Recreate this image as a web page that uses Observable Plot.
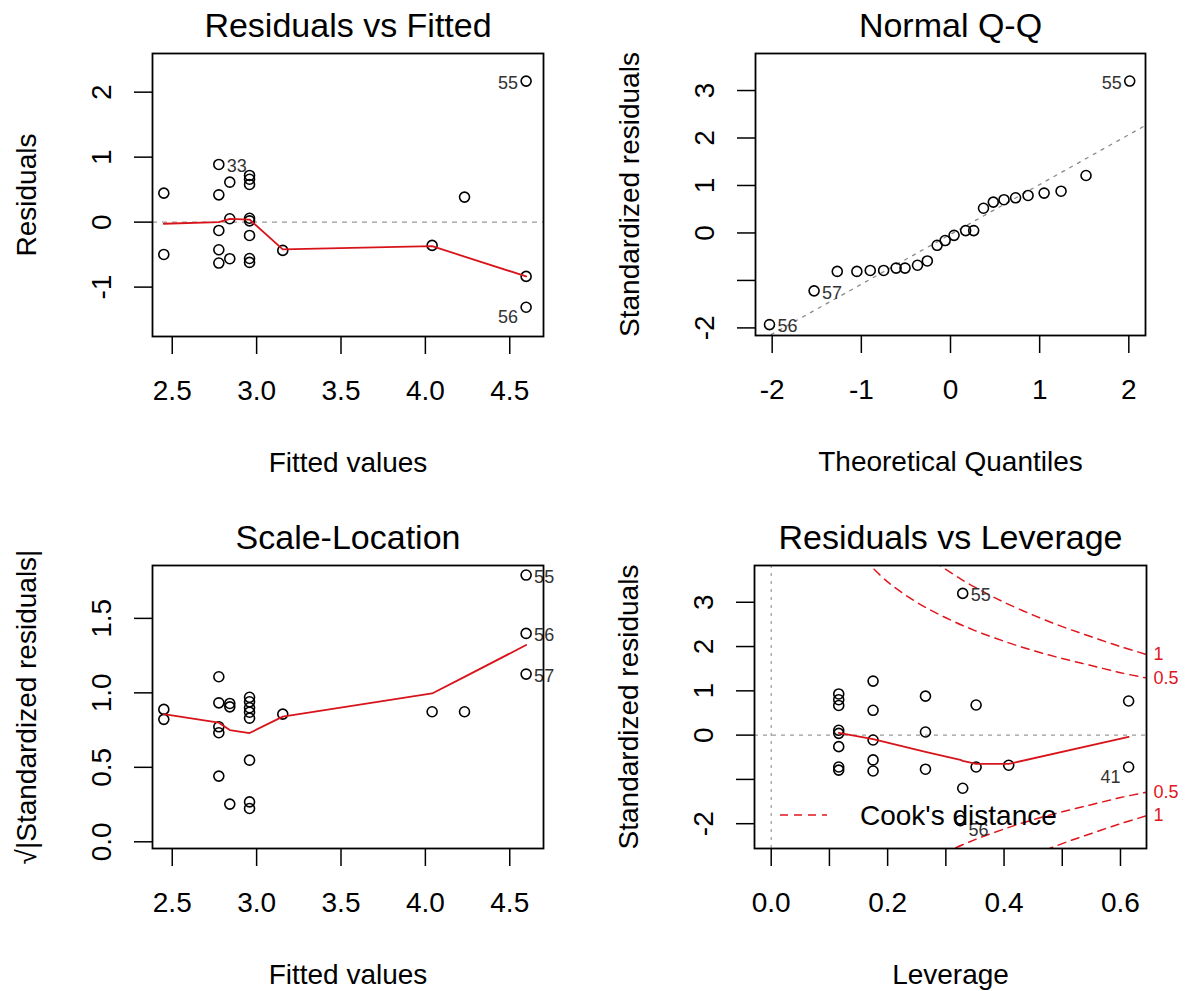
<!DOCTYPE html>
<html><head><meta charset="utf-8">
<script src="https://cdn.jsdelivr.net/npm/d3@7"></script>
<script src="https://cdn.jsdelivr.net/npm/@observablehq/plot@0.6"></script>
<style>
body{margin:0;background:#fff;}
#wrap{position:relative;width:1189px;height:991px;background:#fff;overflow:hidden;}
#wrap svg{position:absolute;overflow:visible;}
</style></head><body><div id="wrap"></div>
<script>
// ---------- Panel 1: Residuals vs Fitted ----------
const fitted1 = [2.45,2.45,2.776,2.776,2.776,2.776,2.776,2.841,2.841,2.841,2.958,2.958,2.958,2.958,2.958,2.958,2.958,2.958,3.155,4.04,4.232,4.597,4.597,4.597];
const resid1  = [0.446,-0.497,0.888,0.42,-0.128,-0.425,-0.63,0.615,0.052,-0.563,0.718,0.66,0.58,0.06,0.02,-0.205,-0.56,-0.62,-0.435,-0.358,0.385,2.17,-0.835,-1.31];
const id1     = ["","","33","","","","","","","","","","","","","","","","","","","55","","56"];
const smoothX1 = [2.45,2.776,2.841,2.958,3.155,4.04,4.232,4.597];
const smoothY1 = [-0.025,0.0,0.05,0.04,-0.42,-0.37,-0.53,-0.835];
const xTicks1 = [2.5,3.0,3.5,4.0,4.5];
const xTickLabels1 = ["2.5","3.0","3.5","4.0","4.5"];
const yTicks1 = [-1,0,1,2];
const yTickLabels1 = ["-1","0","1","2"];

// ---------- Panel 2: Normal Q-Q ----------
const theo2 = [-2.03,-1.53,-1.27,-1.05,-0.90,-0.75,-0.61,-0.51,-0.37,-0.26,-0.15,-0.06,0.04,0.17,0.26,0.37,0.48,0.60,0.73,0.87,1.05,1.24,1.52,2.01];
const std2  = [-1.93,-1.22,-0.81,-0.81,-0.79,-0.79,-0.74,-0.74,-0.68,-0.59,-0.26,-0.16,-0.05,0.05,0.05,0.52,0.65,0.70,0.74,0.79,0.84,0.88,1.21,3.20];
const id2   = ["56","57","","","","","","","","","","","","","","","","","","","","","","55"];
const qqIntercept = -0.03;
const qqSlope = 1.05;
const xTicks2 = [-2,-1,0,1,2];
const xTickLabels2 = ["-2","-1","0","1","2"];
const yTicks2 = [-2,-1,0,1,2,3];
const yTickLabels2 = ["-2","","0","1","2","3"];

// ---------- Panel 3: Scale-Location ----------
const fitted3 = [2.45,2.45,2.776,2.776,2.776,2.776,2.776,2.841,2.841,2.841,2.958,2.958,2.958,2.958,2.958,2.958,2.958,2.958,3.155,4.04,4.232,4.597,4.597,4.597];
const sqrtStd3 = [0.889,0.822,1.108,0.933,0.772,0.732,0.441,0.929,0.906,0.253,0.97,0.94,0.90,0.87,0.83,0.548,0.268,0.224,0.857,0.873,0.873,1.791,1.399,1.126];
const id3 = ["","","","","","","","","","","","","","","","","","","","","","55","56","57"];
const smoothX3 = [2.45,2.776,2.841,2.958,3.155,4.04,4.232,4.597];
const smoothY3 = [0.857,0.80,0.75,0.73,0.84,0.996,1.107,1.321];
const yTicks3 = [0,0.5,1.0,1.5];
const yTickLabels3 = ["0.0","0.5","1.0","1.5"];

// ---------- Panel 4: Residuals vs Leverage ----------
const lev4 = [0.116,0.116,0.116,0.116,0.116,0.116,0.116,0.116,0.175,0.175,0.175,0.175,0.175,0.265,0.265,0.265,0.329,0.325,0.329,0.352,0.352,0.408,0.614,0.614];
const std4 = [0.93,0.80,0.67,0.11,0.04,-0.26,-0.72,-0.79,1.22,0.56,-0.11,-0.56,-0.81,0.88,0.07,-0.77,3.2,-1.93,-1.2,0.68,-0.72,-0.68,0.77,-0.72];
const id4  = ["","","","","","","","","","","","","","","","","55","56","","","","","","41"];
const smoothX4 = [0.116,0.175,0.265,0.325,0.329,0.352,0.408,0.614];
const smoothY4 = [0.05,-0.09,-0.38,-0.56,-0.58,-0.65,-0.65,-0.04];
const cookLev05 = [0.16,0.2,0.25,0.3,0.35,0.4,0.45,0.5,0.55,0.6,0.645];
const cookRes05 = [3.97,3.46,3.00,2.65,2.36,2.12,1.91,1.73,1.57,1.41,1.29];
const cookLev1  = [0.28,0.29,0.33,0.37,0.4,0.45,0.5,0.55,0.6,0.645];
const cookRes1  = [3.93,3.83,3.49,3.20,3.00,2.71,2.45,2.22,2.00,1.82];
const cookLevels = ["0.5","1"];
const cookLabelAt = [1.29,1.82];
const xTicks4 = [0,0.1,0.2,0.3,0.4,0.5,0.6];
const xTickLabels4 = ["0.0","","0.2","","0.4","","0.6"];
const yTicks4 = [-2,-1,0,1,2,3];
const yTickLabels4 = ["-2","","0","1","2","3"];
const refZero = [0];

const FONT = '"Liberation Sans", Arial, Helvetica, sans-serif';
const wrap = document.getElementById("wrap");

const rows = (xs, ys, ids) => xs.map((x, i) => ({x, y: ys[i], id: ids ? ids[i] : ""}));

function idMarks(data, {side = "auto", nudgeNeg = true} = {}) {
  const lab = data.filter(d => d.id);
  const xs = data.map(d => d.x);
  const mid = (d3.min(xs) + d3.max(xs)) / 2;
  return lab.map(d => {
    const left = side === "auto" ? d.x > mid : side === "left";
    return Plot.text([d], {
      x: "x", y: "y", text: "id",
      textAnchor: left ? "end" : "start",
      dx: left ? -8 : 8,
      dy: nudgeNeg && d.y < 0 ? 10 : 2,
      fontSize: 18, fill: "#333", lineAnchor: "middle"
    });
  });
}

function panel(o) {
  const xFmt = new Map(o.xTicks.map((t, i) => [t, o.xTickLabels[i]]));
  const yTickData = o.yTicks.map((t, i) => ({v: t, label: o.yTickLabels[i]}));
  const chart = Plot.plot({
    width: o.width, height: o.height,
    marginLeft: o.ml, marginRight: o.mr, marginTop: o.mt, marginBottom: o.mb,
    x: {domain: o.xDomain}, y: {domain: o.yDomain},
    style: {fontFamily: FONT, background: "transparent", color: "black", overflow: "visible"},
    marks: [
      ...o.marks,
      Plot.frame({stroke: "black", strokeWidth: 1.8}),
      Plot.axisX({ticks: o.xTicks, tickFormat: d => xFmt.get(d), tickSize: 18, tickPadding: 26, fontSize: 28, strokeWidth: 1.5, label: null}),
      Plot.axisY({ticks: o.yTicks, tickFormat: () => "", tickSize: 18, strokeWidth: 1.5, label: null}),
      Plot.text(yTickData, {y: "v", text: "label", frameAnchor: "left", dx: -50, rotate: -90, fontSize: 28, lineAnchor: "middle", textAnchor: "middle", fill: "black"}),
      Plot.text([o.title], {text: d => d, frameAnchor: "top", dy: -27, fontSize: 34, lineAnchor: "middle", textAnchor: "middle", fill: "black"}),
      Plot.text([o.xLabel], {text: d => d, frameAnchor: "bottom", dy: 127, fontSize: 28, lineAnchor: "middle", textAnchor: "middle", fill: "black"}),
      Plot.text([o.yLabel], {text: d => d, frameAnchor: "left", dx: -125, rotate: -90, fontSize: 28, lineAnchor: "middle", textAnchor: "middle", fill: "black"})
    ]
  });
  chart.style.left = o.left + "px";
  chart.style.top = o.top + "px";
  wrap.append(chart);
  return chart;
}

const dotOpts = {x: "x", y: "y", r: 5, stroke: "black", strokeWidth: 1.6, fill: "none"};
const redLine = {x: "x", y: "y", stroke: "#d8141b", strokeWidth: 1.8};

// Panel 1
const d1 = rows(fitted1, resid1, id1);
panel({
  left: 0, top: 0, width: 594, height: 495, ml: 152, mr: 51, mt: 53, mb: 159,
  xDomain: [2.383, 4.70], yDomain: [-1.76, 2.595],
  xTicks: xTicks1, xTickLabels: xTickLabels1, yTicks: yTicks1, yTickLabels: yTickLabels1,
  title: "Residuals vs Fitted", xLabel: "Fitted values", yLabel: "Residuals",
  marks: [
    Plot.ruleY(refZero, {stroke: "#9a9a9a", strokeDasharray: "5,5", strokeWidth: 1.2}),
    Plot.dot(d1, dotOpts),
    Plot.line(rows(smoothX1, smoothY1), redLine),
    ...idMarks(d1)
  ]
});

// Panel 2
const d2 = rows(theo2, std2, id2);
const qqDomain = [-2.187, 2.187];
const qqRows = qqDomain.map(q => ({x: q, y: qqIntercept + qqSlope * q}));
panel({
  left: 594, top: 0, width: 595, height: 495, ml: 161, mr: 44, mt: 53, mb: 160,
  xDomain: qqDomain, yDomain: [-2.16, 3.78],
  xTicks: xTicks2, xTickLabels: xTickLabels2, yTicks: yTicks2, yTickLabels: yTickLabels2,
  title: "Normal Q-Q", xLabel: "Theoretical Quantiles", yLabel: "Standardized residuals",
  marks: [
    Plot.line(qqRows, {x: "x", y: "y", stroke: "#8a8a8a", strokeDasharray: "3,6", strokeWidth: 1.3, clip: true}),
    Plot.dot(d2, dotOpts),
    ...idMarks(d2, {nudgeNeg: false})
  ]
});

// Panel 3
const d3rows = rows(fitted3, sqrtStd3, id3);
panel({
  left: 0, top: 495, width: 594, height: 496, ml: 152, mr: 51, mt: 70, mb: 143,
  xDomain: [2.383, 4.70], yDomain: [-0.045, 1.855],
  xTicks: xTicks1, xTickLabels: xTickLabels1, yTicks: yTicks3, yTickLabels: yTickLabels3,
  title: "Scale-Location", xLabel: "Fitted values", yLabel: "√|Standardized residuals|",
  marks: [
    Plot.dot(d3rows, dotOpts),
    Plot.line(rows(smoothX3, smoothY3), redLine),
    ...idMarks(d3rows, {side: "right", nudgeNeg: false})
  ]
});

// Panel 4
const d4 = rows(lev4, std4, id4);
const cookStyle = {x: "x", y: "y", stroke: "#e0161e", strokeDasharray: "8,6", strokeWidth: 1.5, clip: true, curve: "catmull-rom"};
const c05 = rows(cookLev05, cookRes05);
const c1 = rows(cookLev1, cookRes1);
const neg = arr => arr.map(d => ({x: d.x, y: -d.y}));
const cookLab = cookLevels.map((l, i) => ({label: l, y: cookLabelAt[i]}));
const chart4 = panel({
  left: 594, top: 495, width: 595, height: 496, ml: 160, mr: 43, mt: 70, mb: 143,
  xDomain: [-0.0287, 0.6447], yDomain: [-2.56, 3.83],
  xTicks: xTicks4, xTickLabels: xTickLabels4, yTicks: yTicks4, yTickLabels: yTickLabels4,
  title: "Residuals vs Leverage", xLabel: "Leverage", yLabel: "Standardized residuals",
  marks: [
    Plot.ruleY(refZero, {stroke: "#9a9a9a", strokeDasharray: "4,5", strokeWidth: 1.2}),
    Plot.ruleX(refZero, {stroke: "#9a9a9a", strokeDasharray: "3,5", strokeWidth: 1.2}),
    Plot.line(c05, cookStyle),
    Plot.line(c1, cookStyle),
    Plot.line(neg(c05), cookStyle),
    Plot.line(neg(c1), cookStyle),
    Plot.dot(d4, dotOpts),
    Plot.line(rows(smoothX4, smoothY4), redLine),
    ...idMarks(d4),
    Plot.text(cookLab, {y: "y", text: "label", frameAnchor: "right", dx: 7, textAnchor: "start", fill: "#e0161e", fontSize: 18, lineAnchor: "middle"}),
    Plot.text(cookLab, {y: d => -d.y, text: "label", frameAnchor: "right", dx: 7, textAnchor: "start", fill: "#e0161e", fontSize: 18, lineAnchor: "middle"})
  ]
});

// Legend (inside the panel 4 frame, bottom-left)
{
  const svg = d3.select(chart4);
  const fb = 496 - 143;
  const g = svg.append("g");
  g.append("line").attr("x1", 160 + 26).attr("x2", 160 + 73).attr("y1", fb - 33).attr("y2", fb - 33)
    .attr("stroke", "#e0161e").attr("stroke-width", 1.5).attr("stroke-dasharray", "8,6");
  g.append("text").attr("x", 160 + 106).attr("y", fb - 33).attr("dy", "0.35em")
    .attr("text-anchor", "start")
    .attr("font-size", 28).attr("fill", "black").attr("font-family", FONT).text("Cook's distance");
}
</script>
</body></html>
